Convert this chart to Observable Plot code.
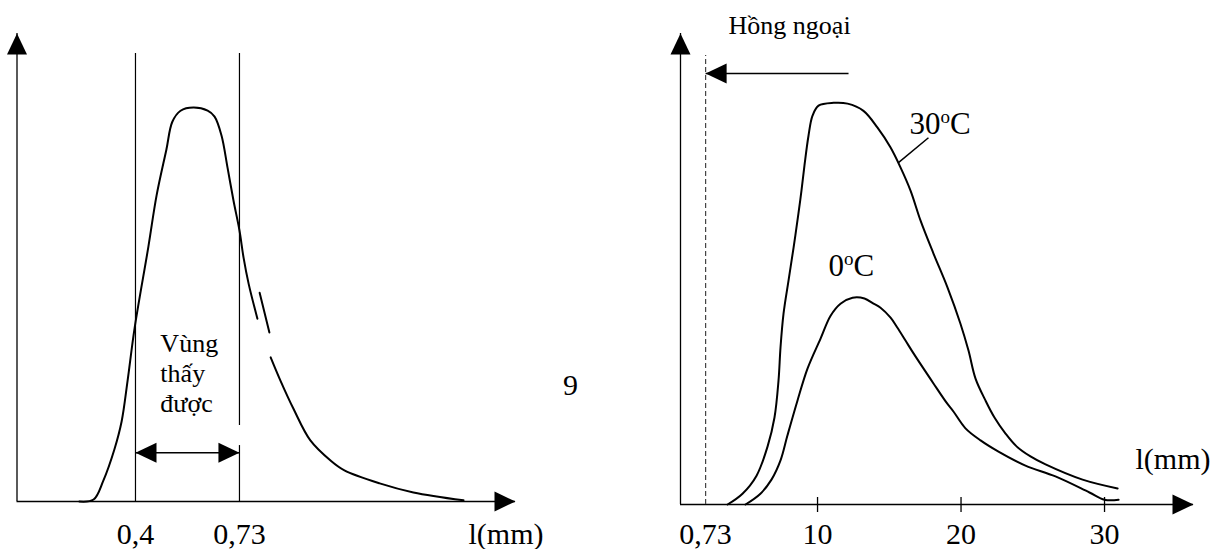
<!DOCTYPE html>
<html><head><meta charset="utf-8">
<script src="https://cdn.jsdelivr.net/npm/d3@7"></script>
<script src="https://cdn.jsdelivr.net/npm/@observablehq/plot@0.6"></script>
<style>
body{margin:0;background:#fff;}
#wrap{position:relative;width:1224px;height:549px;overflow:hidden;font-family:"Liberation Serif",serif;color:#000;}
.panel{position:absolute;top:0;}
.panel svg text{font-family:"Liberation Serif",serif;}
#pagenum{position:absolute;left:563px;top:370px;font-size:30px;line-height:30px;}
</style></head>
<body>
<div id="wrap">
  <div id="left" class="panel" style="left:0;width:600px"></div>
  <div id="right" class="panel" style="left:600px;width:624px"></div>
  <div id="pagenum">9</div>
</div>
<script>
// ---------- DATA ----------
// Left panel: spectral curve (relative intensity vs wavelength, schematic)
const leftCurveX   = [0.222,0.267,0.298,0.333,0.356,0.375,0.397,0.441,0.467,0.498,0.517,0.543,0.584,0.629,0.651,0.673,0.692,0.711,0.730,0.743,0.759,0.787, 0.794,0.825, 0.829,0.860,0.901,0.955,1.019,1.063,1.175,1.282,1.441];
const leftCurveY   = [0,0.5,5.3,13.2,20.3,30.7,43.9,64.7,77.7,89.3,96.4,99.2,100,99.2,97.7,92.9,84.8,76.4,68.8,61.9,55.3,46.4, 53.0,42.9, 36.6,30.7,23.6,15.5,10.4,7.9,4.6,2.3,0.3];
const leftCurveSeg = [1,1,1,1,1,1,1,1,1,1,1,1,1,1,1,1,1,1,1,1,1,1, 2,2, 3,3,3,3,3,3,3,3,3];
const visibleBand  = [0.4, 0.73];                // boundaries of the visible region
const boundaryX    = [0.4, 0.73, 0.73];          // boundary rule pieces
const boundaryY1   = [0, 19.3, 0];
const boundaryY2   = [113.7, 113.7, 14.2];
const visArrowLevel = 12.4;
const visLabel     = "Vùng\nthấy\nđược";
const xUnitLabel   = "l(mm)";

// Right panel: curves at two temperatures
const tempNames = ["30oC", "0oC"];
const c30X = [3.73,4.77,5.75,6.52,7.00,7.28,7.42,7.63,7.98,8.33,8.67,8.88,9.09,9.37,9.65,10.07,11.12,12.09,13.20,14.18,15.08,15.78,16.48,17.18,18.08,19.06,19.96,20.52,21.01,21.71,22.33,23.10,23.87,24.84,25.89,28.47,30.91];
const c30Y = [0,2.7,7.2,14.5,21.7,30.9,39.2,47.6,55.9,64.1,72.6,78.3,84.6,92.0,97.0,99.5,100.2,100.0,98.2,94.0,89.1,84.1,78.3,70.8,62.6,54.1,45.1,38.4,31.4,25.9,21.7,17.7,14.5,12.0,10.0,6.2,4.0];
const c0X  = [4.98,6.02,6.79,7.42,7.90,8.60,9.30,10.21,10.91,11.60,12.44,13.27,13.90,14.39,15.09,15.57,16.13,16.69,18.08,18.99,19.47,20.31,21.36,22.61,24.49,26.58,28.95,30.00,30.98];
const c0Y  = [0,2.7,6.2,11.0,17.2,25.9,33.9,41.4,47.1,50.1,51.6,51.4,50.1,49.1,46.6,44.1,40.9,37.7,30.2,25.4,23.2,19.0,16.0,13.2,9.7,7.0,3.0,1.2,1.2];
const rightTicks = [10, 20, 30];
const irBoundaryPos = 2.2;      // drawn position of the 0,73 boundary on the schematic axis
const irLabel = "Hồng ngoại";
const irArrowFrom = 12.16, irArrowLevel = 107.5, irDashTop = 112;
const leaderX = [15.64, 17.73], leaderY = [85.3, 91.5];
const tempLabelX = [16.41, 10.76], tempLabelY = [92.5, 57.1];

// ---------- helpers ----------
const fmt = d => String(d).replace(".", ",");
const arrowHead = {draw(ctx) { ctx.moveTo(0, 0); ctx.lineTo(-10, 21); ctx.lineTo(10, 21); ctx.closePath(); }};
const ink = "#000";
const serif = "Liberation Serif";

// ---------- LEFT PANEL ----------
const leftData = leftCurveX.map((x, i) => ({x, y: leftCurveY[i], seg: leftCurveSeg[i]}));
const boundaries = boundaryX.map((x, i) => ({x, y1: boundaryY1[i], y2: boundaryY2[i]}));
const leftXDomain = [0.024, 1.606], leftYDomain = [0, 118.8];

const leftPlot = Plot.plot({
  width: 600, height: 549,
  marginLeft: 16.5, marginRight: 85, marginTop: 33, marginBottom: 48,
  style: {fontFamily: serif, fontSize: "30px", background: "transparent", color: ink},
  x: {domain: leftXDomain},
  y: {domain: leftYDomain, axis: null},
  marks: [
    Plot.ruleX([leftXDomain[0]], {stroke: ink, strokeWidth: 1.3}),
    Plot.ruleY([0], {stroke: ink, strokeWidth: 1.3}),
    Plot.dot([0], {frameAnchor: "top-left", symbol: arrowHead, fill: ink, stroke: "none", rotate: 0}),
    Plot.dot([0], {frameAnchor: "bottom-right", symbol: arrowHead, fill: ink, stroke: "none", rotate: 90}),
    Plot.ruleX(boundaries, {x: "x", y1: "y1", y2: "y2", stroke: ink, strokeWidth: 1.2}),
    Plot.line(leftData, {x: "x", y: "y", z: "seg", curve: "catmull-rom", stroke: ink, strokeWidth: 2}),
    Plot.link([{x1: visibleBand[0], x2: visibleBand[1], y: visArrowLevel}], {x1: "x1", x2: "x2", y1: "y", y2: "y", stroke: ink, strokeWidth: 1.5}),
    Plot.dot(visibleBand.map((x, i) => ({x, y: visArrowLevel, rot: i ? 90 : -90})), {x: "x", y: "y", rotate: "rot", symbol: arrowHead, fill: ink, stroke: "none"}),
    Plot.text([visLabel], {x: 0.479, y: 22.6, textAnchor: "start", lineAnchor: "bottom", lineHeight: 1.154, fontSize: 26, fontFamily: serif}),
    Plot.axisX({ticks: visibleBand, tickSize: 0, tickPadding: 20.7, tickFormat: fmt, label: null, fontSize: 30, fontFamily: serif}),
    Plot.text([xUnitLabel], {frameAnchor: "bottom-right", textAnchor: "start", lineAnchor: "bottom", dx: -47, dy: 42, fontFamily: serif})
  ]
});
document.getElementById("left").append(leftPlot);

// ---------- RIGHT PANEL ----------
const rightData = [
  ...c30X.map((x, i) => ({x, y: c30Y[i], t: tempNames[0]})),
  ...c0X.map((x, i) => ({x, y: c0Y[i], t: tempNames[1]}))
];
const rightXDomain = [0.45, 36.2], rightYDomain = [0, 117.5];

const rightPlot = Plot.plot({
  width: 624, height: 549,
  marginLeft: 80, marginRight: 31, marginTop: 33, marginBottom: 45,
  style: {fontFamily: serif, fontSize: "30px", background: "transparent", color: ink},
  x: {domain: rightXDomain},
  y: {domain: rightYDomain, axis: null},
  marks: [
    Plot.ruleX([rightXDomain[0]], {stroke: ink, strokeWidth: 1.3}),
    Plot.ruleY([0], {stroke: ink, strokeWidth: 1.3}),
    Plot.dot([0], {frameAnchor: "top-left", symbol: arrowHead, fill: ink, stroke: "none", rotate: 0}),
    Plot.dot([0], {frameAnchor: "bottom-right", symbol: arrowHead, fill: ink, stroke: "none", rotate: 90}),
    Plot.ruleX([irBoundaryPos], {y1: 0, y2: irDashTop, stroke: "#444", strokeWidth: 1.2, strokeDasharray: "5,3"}),
    Plot.link([{x1: irArrowFrom, x2: irBoundaryPos, y: irArrowLevel}], {x1: "x1", x2: "x2", y1: "y", y2: "y", stroke: ink, strokeWidth: 1.5}),
    Plot.dot([{x: irBoundaryPos, y: irArrowLevel}], {x: "x", y: "y", rotate: -90, symbol: arrowHead, fill: ink, stroke: "none"}),
    Plot.text([irLabel], {x: 3.8, y: 117.5, textAnchor: "start", lineAnchor: "bottom", fontSize: 26, fontFamily: serif}),
    Plot.line(rightData, {x: "x", y: "y", z: "t", curve: "catmull-rom", stroke: ink, strokeWidth: 2}),
    Plot.link([0], {x1: leaderX[0], x2: leaderX[1], y1: leaderY[0], y2: leaderY[1], stroke: ink, strokeWidth: 1.5}),
    Plot.text(tempNames, {x: (d, i) => tempLabelX[i], y: (d, i) => tempLabelY[i], textAnchor: "start", lineAnchor: "bottom", fontSize: 31, fontFamily: serif}),
    Plot.axisX({ticks: rightTicks, tickSize: 15, dy: -7, tickPadding: 9.7, tickFormat: d => d, label: null, stroke: ink, strokeWidth: 1.3, fontSize: 30, fontFamily: serif}),
    Plot.axisX({ticks: [irBoundaryPos], tickSize: 0, tickPadding: 17.7, tickFormat: () => fmt(visibleBand[1]), label: null, fontSize: 30, fontFamily: serif}),
    Plot.text([xUnitLabel], {frameAnchor: "bottom-right", textAnchor: "start", lineAnchor: "bottom", dx: -58, dy: -36, fontFamily: serif})
  ]
});
document.getElementById("right").append(rightPlot);

// superscript "o" in temperature labels
const ns = "http://www.w3.org/2000/svg";
rightPlot.querySelectorAll("text").forEach(t => {
  if (t.children.length) return;
  const m = /^(\d+)o(C)$/.exec(t.textContent);
  if (!m) return;
  t.textContent = m[1];
  const o = document.createElementNS(ns, "tspan");
  o.setAttribute("font-size", "19"); o.setAttribute("dy", "-11"); o.textContent = "o";
  const c = document.createElementNS(ns, "tspan");
  c.setAttribute("dy", "11"); c.textContent = m[2];
  t.append(o, c);
});
</script>
</body></html>
